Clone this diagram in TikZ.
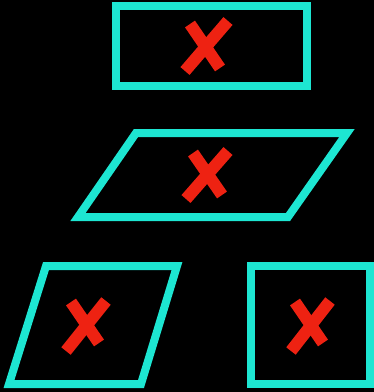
\documentclass[tikz,border=0pt]{standalone}
\definecolor{frm}{HTML}{1DE6D2}
\definecolor{xr}{HTML}{EE2212}
\tikzset{
  frame/.style={draw=frm, line width=8pt, line join=miter},
  cross/.style={draw=xr, line width=12pt, line cap=butt},
}
\begin{document}
\begin{tikzpicture}[x=1pt,y=-1pt]
\fill[black] (0,0) rectangle (374,392);
\useasboundingbox (0,0) rectangle (374,392);
% top rectangle
\draw[frame] (116,6) rectangle (307,86);
\draw[cross] (190,24) -- (220,68);
\draw[cross] (228,21) -- (185,71);
% middle parallelogram
\draw[frame] (136,133) -- (347,133) -- (288,217) -- (78,217) -- cycle;
\draw[cross] (193,153) -- (222,195);
\draw[cross] (228,151) -- (186,199);
% bottom-left parallelogram
\draw[frame] (46,266) -- (177,266) -- (141,384) -- (9,384) -- cycle;
\draw[cross] (71,302) -- (99,343);
\draw[cross] (106,301) -- (66,351);
% bottom-right square
\draw[frame] (251,266) rectangle (370,384);
\draw[cross] (295,302) -- (323,343);
\draw[cross] (330,301) -- (291,351);
\end{tikzpicture}
\end{document}
